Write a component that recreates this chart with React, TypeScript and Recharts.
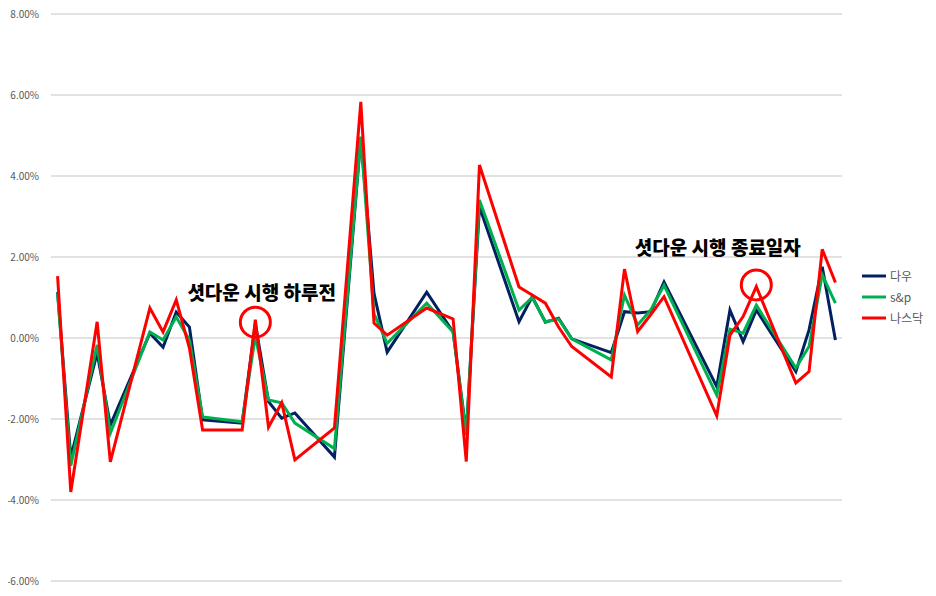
import React from 'react';
import { LineChart, Line, XAxis, YAxis, CartesianGrid, Legend, ReferenceDot } from 'recharts';

const days = [0, 1, 3, 4, 7, 8, 9, 10, 11, 14, 15, 16, 17, 18, 21, 23, 24, 25, 28, 30, 31, 32, 35, 36, 37, 38, 39, 42, 43, 44, 45, 46, 50, 51, 52, 53, 56, 57, 58, 59];
const dow = [1.13, -2.95, -0.37, -2.15, 0.12, -0.23, 0.64, 0.27, -2.02, -2.1, 0.35, -1.57, -1.98, -1.85, -2.94, 4.95, 1.1, -0.35, 1.13, 0.15, -2.35, 3.24, 0.4, 1.02, 0.39, 0.49, -0.02, -0.36, 0.65, 0.62, 0.65, 1.38, -1.2, 0.69, -0.09, 0.69, -0.83, 0.2, 1.76, -0.05];
const sp = [1.1, -3.15, -0.17, -2.35, 0.15, -0.05, 0.52, -0.05, -1.95, -2.07, 0.05, -1.53, -1.6, -2.1, -2.73, 4.97, 0.6, -0.13, 0.86, 0.15, -2.4, 3.41, 0.69, 1.0, 0.4, 0.47, -0.02, -0.54, 1.06, 0.32, 0.7, 1.3, -1.41, 0.22, 0.12, 0.81, -0.74, -0.21, 1.56, 0.86];
const nasdaq = [1.53, -3.8, 0.4, -3.06, 0.74, 0.15, 0.94, -0.25, -2.27, -2.27, 0.45, -2.2, -1.6, -3.01, -2.22, 5.83, 0.37, 0.07, 0.74, 0.47, -3.05, 4.27, 1.26, 1.06, 0.86, 0.27, -0.21, -0.96, 1.7, 0.16, 0.58, 1.02, -1.92, 0.07, 0.53, 1.27, -1.11, -0.83, 2.19, 1.37];

const seriesNames = ['다우', 's&p', '나스닥'];
const seriesKeys = ['dow', 'sp', 'nasdaq'];
const seriesColors = ['#002060', '#00B050', '#FF0000'];
const yTicks = [-6, -4, -2, 0, 2, 4, 6, 8];

const annotations = [
  { day: 15, value: 0.39, text: '셧다운 시행 하루전', textDay: 15.48, textValue: 1.11 },
  { day: 53, value: 1.31, text: '셧다운 시행 종료일자', textDay: 50.08, textValue: 2.22 },
];

const data = days.map((d, i) => ({ day: d, dow: dow[i], sp: sp[i], nasdaq: nasdaq[i] }));

const FONT = '"Noto Sans CJK KR", "Noto Sans", sans-serif';

const renderLegend = () => (
  <div style={{ fontFamily: FONT }}>
    {seriesNames.map((n, i) => (
      <div key={n} style={{ display: 'flex', alignItems: 'center', height: 21 }}>
        <svg width={26} height={6} style={{ display: 'block' }}>
          <line x1={1} y1={3} x2={25} y2={3} stroke={seriesColors[i]} strokeWidth={3} />
        </svg>
        <span style={{ fontSize: 12, color: '#595959', marginLeft: 3 }}>{n}</span>
      </div>
    ))}
  </div>
);

export default function App() {
  return (
    <div style={{ marginLeft: -8, marginTop: -8, width: 936, height: 588 }}>
      <LineChart width={936} height={588} data={data} margin={{ top: 14, right: 24, bottom: 7, left: 8 }}>
        <CartesianGrid vertical={false} stroke="#d9d9d9" strokeWidth={1.5} />
        <XAxis type="number" dataKey="day" domain={[-0.5, 59.5]} hide />
        <YAxis
          domain={[-6, 8]}
          ticks={yTicks}
          width={43}
          axisLine={false}
          tickLine={false}
          tickSize={0}
          tickMargin={12}
          interval={0}
          tickFormatter={(v: number) => v.toFixed(2) + '%'}
          tick={{ fill: '#595959', fontSize: 10, fontFamily: FONT }}
        />
        {seriesKeys.map((k, i) => (
          <Line
            key={k}
            type="linear"
            dataKey={k}
            name={seriesNames[i]}
            stroke={seriesColors[i]}
            strokeWidth={3}
            dot={false}
            activeDot={false}
            isAnimationActive={false}
          />
        ))}
        {annotations.map((a) => (
          <ReferenceDot key={a.text + 'c'} x={a.day} y={a.value} r={15} fill="none" stroke="#FF0000" strokeWidth={3} ifOverflow="visible" />
        ))}
        {annotations.map((a) => (
          <ReferenceDot
            key={a.text}
            x={a.textDay}
            y={a.textValue}
            r={0}
            fill="none"
            stroke="none"
            ifOverflow="visible"
            label={{ value: a.text, position: 'center', fill: '#000', fontSize: 19, fontWeight: 900, fontFamily: FONT }}
          />
        ))}
        <Legend
          layout="vertical"
          align="right"
          verticalAlign="top"
          content={renderLegend}
          wrapperStyle={{ left: 861, top: 265, width: 70, right: 'auto' }}
        />
      </LineChart>
    </div>
  );
}
